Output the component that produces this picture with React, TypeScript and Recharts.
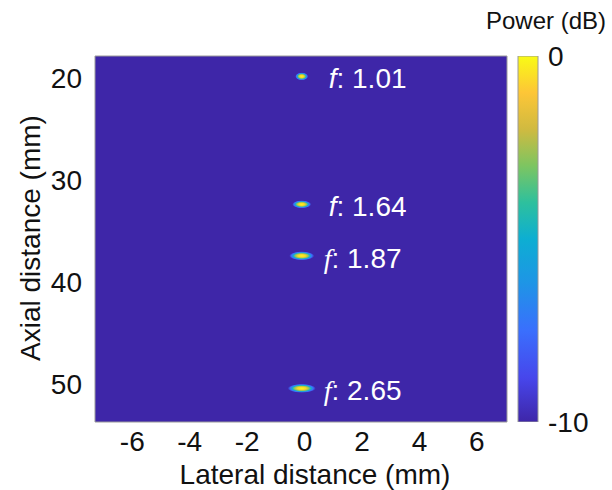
import React from 'react';
import {
  ComposedChart,
  BarChart,
  Bar,
  Scatter,
  XAxis,
  YAxis,
  ReferenceArea,
} from 'recharts';

// focal spots (mm)
const LATERAL = [-0.1, -0.1, -0.1, -0.1];
const AXIAL = [19.8, 32.35, 37.4, 50.4];
const F_NUMBERS = ['1.01', '1.64', '1.87', '2.65'];

const X_TICKS = [-6, -4, -2, 0, 2, 4, 6];
const Y_TICKS = [20, 30, 40, 50];
const X_DOMAIN = [-7.3, 7.05];
const Y_DOMAIN = [17.8, 53.7];

// colour bar (dB)
const CB_RANGE = [-10, 0];
const CB_TICKS = [-10, 0];

// blob half-sizes in px, and which face the italic f uses
const BLOB_RX = [6.5, 9.5, 12.5, 14];
const BLOB_RY = [4, 4, 4.5, 4.5];
const F_SERIF = [false, false, true, true];

const FONT = '"Liberation Sans", Arial, sans-serif';
const BG = '#3E26A8';
const TXT = '#111';

const spots = AXIAL.map((y, i) => ({ x: LATERAL[i], y, f: F_NUMBERS[i], i }));
const cbData = [{ name: 'power', range: CB_RANGE }];

// parula-ish ramp, bottom -> top
const PARULA: [number, string][] = [
  [0, '#3E26A8'],
  [0.12, '#4746EB'],
  [0.25, '#3A6FFD'],
  [0.38, '#1E95E6'],
  [0.5, '#0DAED2'],
  [0.6, '#2EC09D'],
  [0.7, '#7DC561'],
  [0.8, '#D0BA40'],
  [0.9, '#FDC637'],
  [1, '#F9FB15'],
];

function Blob(props: any) {
  const { cx, cy, payload } = props;
  const i = payload.i;
  const serif = F_SERIF[i];
  const tx = cx + (serif ? 22 : 27);
  return (
    <g>
      <ellipse cx={cx} cy={cy} rx={BLOB_RX[i]} ry={BLOB_RY[i]} fill="url(#blobGrad)" />
      <text x={tx} y={cy + 2} dominantBaseline="central" fill="#fff" fontSize={28} fontFamily={FONT}>
        <tspan
          fontStyle="italic"
          fontFamily={serif ? '"Liberation Serif", "Times New Roman", serif' : FONT}
        >
          f
        </tspan>
        <tspan>{': ' + payload.f}</tspan>
      </text>
    </g>
  );
}

export default function App() {
  return (
    <div style={{ position: 'absolute', left: 0, top: 0, width: 612, height: 490, background: '#fff' }}>
      <div style={{ position: 'absolute', left: 0, top: 0 }}>
        <ComposedChart
          width={612}
          height={490}
          data={spots}
          margin={{ top: 56, right: 105, bottom: 0, left: 0 }}
        >
          <defs>
            <radialGradient id="blobGrad" cx="50%" cy="50%" r="50%">
              <stop offset="0" stopColor="#F9FB15" />
              <stop offset="0.3" stopColor="#F7D52A" />
              <stop offset="0.5" stopColor="#9CC556" />
              <stop offset="0.66" stopColor="#15B0CC" />
              <stop offset="0.82" stopColor="#3A6FFD" />
              <stop offset="1" stopColor={BG} />
            </radialGradient>
          </defs>
          <XAxis
            type="number"
            dataKey="x"
            domain={X_DOMAIN}
            ticks={X_TICKS}
            allowDataOverflow
            height={68}
            tickLine={false}
            axisLine={false}
            tickSize={0}
            tickMargin={9}
            tick={{ fontSize: 28, fontFamily: FONT, fill: TXT }}
            label={{
              content: () => (
                <text x={315} y={474} textAnchor="middle" dominantBaseline="central" fontSize={28} fontFamily={FONT} fill={TXT}>
                  Lateral distance (mm)
                </text>
              ),
            }}
          />
          <YAxis
            type="number"
            dataKey="y"
            domain={Y_DOMAIN}
            ticks={Y_TICKS}
            reversed
            allowDataOverflow
            width={95}
            tickLine={false}
            axisLine={false}
            tickSize={0}
            tickMargin={13}
            tick={{ fontSize: 28, fontFamily: FONT, fill: TXT }}
            label={{
              content: () => (
                <text
                  x={30}
                  y={238}
                  transform="rotate(-90 30 238)"
                  textAnchor="middle"
                  dominantBaseline="central"
                  fontSize={28}
                  fontFamily={FONT}
                  fill={TXT}
                >
                  Axial distance (mm)
                </text>
              ),
            }}
          />
          <ReferenceArea
            x1={X_DOMAIN[0]}
            x2={X_DOMAIN[1]}
            y1={Y_DOMAIN[0]}
            y2={Y_DOMAIN[1]}
            fill={BG}
            fillOpacity={1}
            stroke="#9a9a9a"
            strokeWidth={1}
          />
          <Scatter data={spots} shape={<Blob />} isAnimationActive={false} />
        </ComposedChart>
      </div>

      {/* colour bar */}
      <div style={{ position: 'absolute', left: 0, top: 0 }}>
        <BarChart
          width={612}
          height={490}
          data={cbData}
          margin={{ top: 56, right: 0, bottom: 68, left: 518 }}
          barCategoryGap={0}
        >
          <defs>
            <linearGradient id="parula" x1="0" y1="1" x2="0" y2="0">
              {PARULA.map(([o, c]) => (
                <stop key={o} offset={o} stopColor={c} />
              ))}
            </linearGradient>
          </defs>
          <XAxis type="category" dataKey="name" hide />
          <YAxis
            type="number"
            orientation="right"
            domain={CB_RANGE}
            ticks={CB_TICKS}
            allowDataOverflow
            width={74}
            tickLine={false}
            axisLine={false}
            tickSize={0}
            tickMargin={10}
            tick={{ fontSize: 28, fontFamily: FONT, fill: TXT }}
            label={{
              content: () => (
                <text x={546} y={20} textAnchor="middle" dominantBaseline="central" fontSize={24} fontFamily={FONT} fill={TXT}>
                  Power (dB)
                </text>
              ),
            }}
          />
          <Bar
            dataKey="range"
            fill="url(#parula)"
            stroke="#9a9a9a"
            strokeWidth={1}
            isAnimationActive={false}
          />
        </BarChart>
      </div>
    </div>
  );
}
